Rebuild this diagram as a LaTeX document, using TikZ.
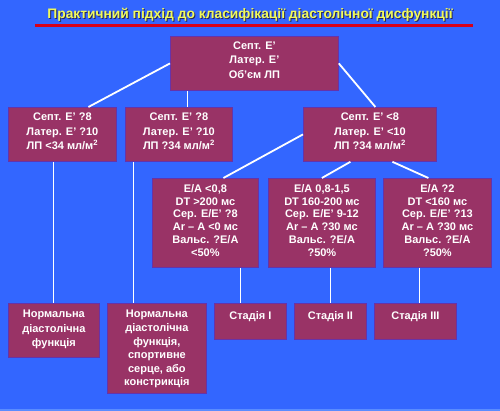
\documentclass[tikz,border=0pt]{standalone}
\usepackage{fontspec}
\setmainfont{Liberation Sans}
\definecolor{bg}{RGB}{51,102,255}
\definecolor{bgedge}{RGB}{90,140,255}
\definecolor{boxfill}{RGB}{153,51,102}
\definecolor{boxline}{RGB}{102,51,170}
\definecolor{ttl}{RGB}{240,250,90}
\definecolor{ttlshadow}{RGB}{40,40,90}
\definecolor{redline}{RGB}{215,0,25}
\newcommand{\bxt}[4]{\begin{minipage}[c][#1][t]{#2}\centering\vspace*{#3}#4\end{minipage}}
\tikzset{
  box/.style={draw=boxline, line width=0.8pt, fill=boxfill, text=white, inner sep=0pt,
    anchor=north west, font=\fontsize{11pt}{14.5pt}\selectfont\bfseries},
  conn/.style={draw=white, line width=1.8pt},
  titletext/.style={font=\fontsize{13.8pt}{15pt}\selectfont\bfseries, inner sep=0pt}
}
\begin{document}
\begin{tikzpicture}[x=1pt,y=-1pt]
\fill[bg] (0,0) rectangle (500,411);
\fill[bgedge] (0,409) rectangle (500,411);
\useasboundingbox (0,0) rectangle (500,411);
% title
\node[titletext, text=ttlshadow] (titleshadow) at (251,16) {Практичний підхід до класифікації діастолічної дисфункції};
\node[titletext, text=ttl] (title) at (250,15) {Практичний підхід до класифікації діастолічної дисфункції};
\coordinate (rl) at (35,26);
\coordinate (rr) at (473,26);
\draw[redline, line width=3pt] (rl) -- (rr);
% top
\node[box] (top) at (170,36) {\bxt{54pt}{168pt}{5pt}{Септ. E’\\Латер. E’\\Об’єм ЛП}};
% row 2
\node[box] (A) at (8,107) {\bxt{54pt}{108pt}{5.5pt}{Септ. E' ?8\\Латер. E' ?10\\ЛП <34 мл/м\textsuperscript{2}}};
\node[box] (B) at (125,107) {\bxt{54pt}{107pt}{5.5pt}{Септ. E' ?8\\Латер. E' ?10\\ЛП ?34 мл/м\textsuperscript{2}}};
\node[box] (C) at (303,107) {\bxt{54pt}{133pt}{5.5pt}{Септ. E' <8\\Латер. E' <10\\ЛП ?34 мл/м\textsuperscript{2}}};
% row 3
\node[box] (D) at (152,178) {\bxt{89pt}{106pt}{6pt}{\baselineskip=12.8pt E/A <0,8\\DT >200 мс\\Сер. E/E' ?8\\Ar – A <0 мс\\Вальс. ?E/A\\<50\%}};
\node[box] (E) at (268,178) {\bxt{89pt}{107pt}{6pt}{\baselineskip=12.8pt E/A 0,8-1,5\\DT 160-200 мс\\Сер. E/E' 9-12\\Ar – A ?30 мс\\Вальс. ?E/A\\?50\%}};
\node[box] (F) at (383,178) {\bxt{89pt}{108pt}{6pt}{\baselineskip=12.8pt E/A ?2\\DT <160 мс\\Сер. E/E' ?13\\Ar – A ?30 мс\\Вальс. ?E/A\\?50\%}};
% row 4
\node[box] (G) at (8,303) {\bxt{54pt}{91pt}{7pt}{Нормальна\\діастолічна\\функція}};
\node[box] (H) at (107,303) {\bxt{90pt}{99pt}{7pt}{\baselineskip=13.6pt Нормальна\\діастолічна\\функція,\\спортивне\\серце, або\\констрикція}};
\node[box] (I) at (214,303) {\bxt{36pt}{72pt}{8pt}{Стадія I}};
\node[box] (J) at (294,303) {\bxt{36pt}{72pt}{8pt}{Стадія II}};
\node[box] (K) at (374,303) {\bxt{36pt}{82pt}{8pt}{Стадія III}};
% connectors
\draw[conn] (top.west) -- ([xshift=26pt]A.north);
\draw[conn] ([xshift=-67pt]top.south) -- ([xshift=8.5pt]B.north);
\draw[conn] (top.east) -- ([xshift=5.5pt]C.north);
\draw[conn] (C.west) -- ([xshift=18pt]D.north);
\draw[conn] ([xshift=-19.5pt]C.south) -- (E.north);
\draw[conn] ([xshift=22.5pt]C.south) -- ([xshift=-9pt]F.north);
\draw[conn] ([xshift=-9pt]A.south) -- ([xshift=-0.5pt]G.north);
\draw[conn] ([xshift=-45.5pt]B.south) -- ([xshift=-23.5pt]H.north);
\draw[conn] ([xshift=35pt]D.south) -- ([xshift=-10pt]I.north);
\draw[conn] ([xshift=8.5pt]E.south) -- (J.north);
\draw[conn] ([xshift=-18pt]F.south) -- ([xshift=4pt]K.north);
\end{tikzpicture}
\end{document}
